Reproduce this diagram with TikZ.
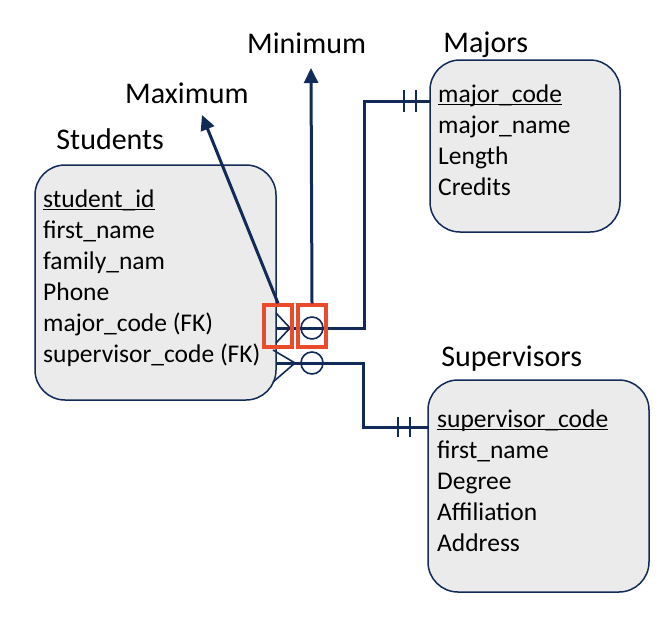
\documentclass[tikz,border=0pt]{standalone}
\usepackage{fontspec}
\setmainfont{Carlito}
\usetikzlibrary{positioning,arrows.meta}

\definecolor{erdnavy}{RGB}{18,42,88}
\definecolor{erdred}{RGB}{233,75,43}
\definecolor{erdfill}{RGB}{235,235,235}

\newcommand{\pkey}[1]{\setbox0\hbox{#1}\rlap{\rule[-3pt]{\wd0}{1.3pt}}#1}

\begin{document}
\begin{tikzpicture}[x=1pt, y=-1pt,
  every node/.style={font=\fontsize{25.5}{31}\selectfont, inner sep=0pt},
  entity/.style={draw=erdnavy, line width=1.5pt, fill=erdfill, rectangle, rounded corners=30pt},
  title/.style={font=\fontsize{30}{36}\selectfont, anchor=base west},
  attr/.style={align=left, anchor=base west},
  flagbox/.style={draw=erdred, line width=3.5pt, minimum width=28pt, minimum height=42pt},
  link/.style={draw=erdnavy, line width=3pt},
  fine/.style={draw=erdnavy, line width=1.6pt},
  pointer/.style={draw=erdnavy, line width=3pt, -{Triangle[length=15pt,width=14pt]}}]
  \useasboundingbox (0,0) rectangle (668,616);

  % entities
  \node[entity, minimum width=241pt, minimum height=235pt] (students) at (155.5,282.5) {};
  \node[entity, minimum width=190pt, minimum height=172pt] (majors) at (525,146) {};
  \node[entity, minimum width=221pt, minimum height=212pt] (supervisors) at (538.5,486) {};

  \node[title, above right=15pt and 22pt of students.north west, anchor=base west] (studentsname) {Students};
  \node[title, above right=7pt and 14pt of majors.north west, anchor=base west] (majorsname) {Majors};
  \node[title, above right=13pt and 14pt of supervisors.north west, anchor=base west] (supervisorsname) {Supervisors};

  % base of a multi-line node is its last line
  \node[attr] (studentsattr) at (43,362) {\pkey{student\_id}\\first\_name\\family\_nam\\Phone\\major\_code (FK)\\supervisor\_code (FK)};
  \node[attr] (majorsattr) at (438,195) {\pkey{major\_code}\\major\_name\\Length\\Credits};
  \node[attr] (supervisorsattr) at (437,551) {\pkey{supervisor\_code}\\first\_name\\Degree\\Affiliation\\Address};

  % relationships
  \coordinate (majorfk) at (276,328);
  \coordinate (majorpk) at (430,101);
  \coordinate (supfk) at (276,363);
  \coordinate (suppk) at (428,427);

  \draw[link] (majorfk) -- ++(88,0) |- (majorpk);
  \draw[link] (supfk) -- ++(87,0) |- (suppk);

  \draw[fine] (majorfk) ++(0,-15) -- ++(14,15) -- ++(-14,15);
  \draw[fine] (majorfk) ++(36,0) circle (11);
  \draw[fine] (majorpk) ++(-26,-11) -- ++(0,22);
  \draw[fine] (majorpk) ++(-14,-11) -- ++(0,22);

  \draw[fine] (supfk) ++(-3,-13) -- ++(22,13) -- ++(-22,19);
  \draw[fine] (supfk) ++(36,0) circle (11);
  \draw[fine] (suppk) ++(-30,-10) -- ++(0,20);
  \draw[fine] (suppk) ++(-18,-10) -- ++(0,20);

  % cardinality callouts
  \node[flagbox] (maxflag) at (278,326) {};
  \node[flagbox] (minflag) at (312,326) {};

  \node[title] (maxlabel) at (125,103) {Maximum};
  \node[title] (minlabel) at (247,53) {Minimum};
  \coordinate (maxtip) at (202,115);
  \coordinate (mintip) at (311,68);
  \draw[pointer] (maxflag.north) -- (maxtip);
  \draw[pointer] (minflag.north) -- (mintip);
\end{tikzpicture}
\end{document}
